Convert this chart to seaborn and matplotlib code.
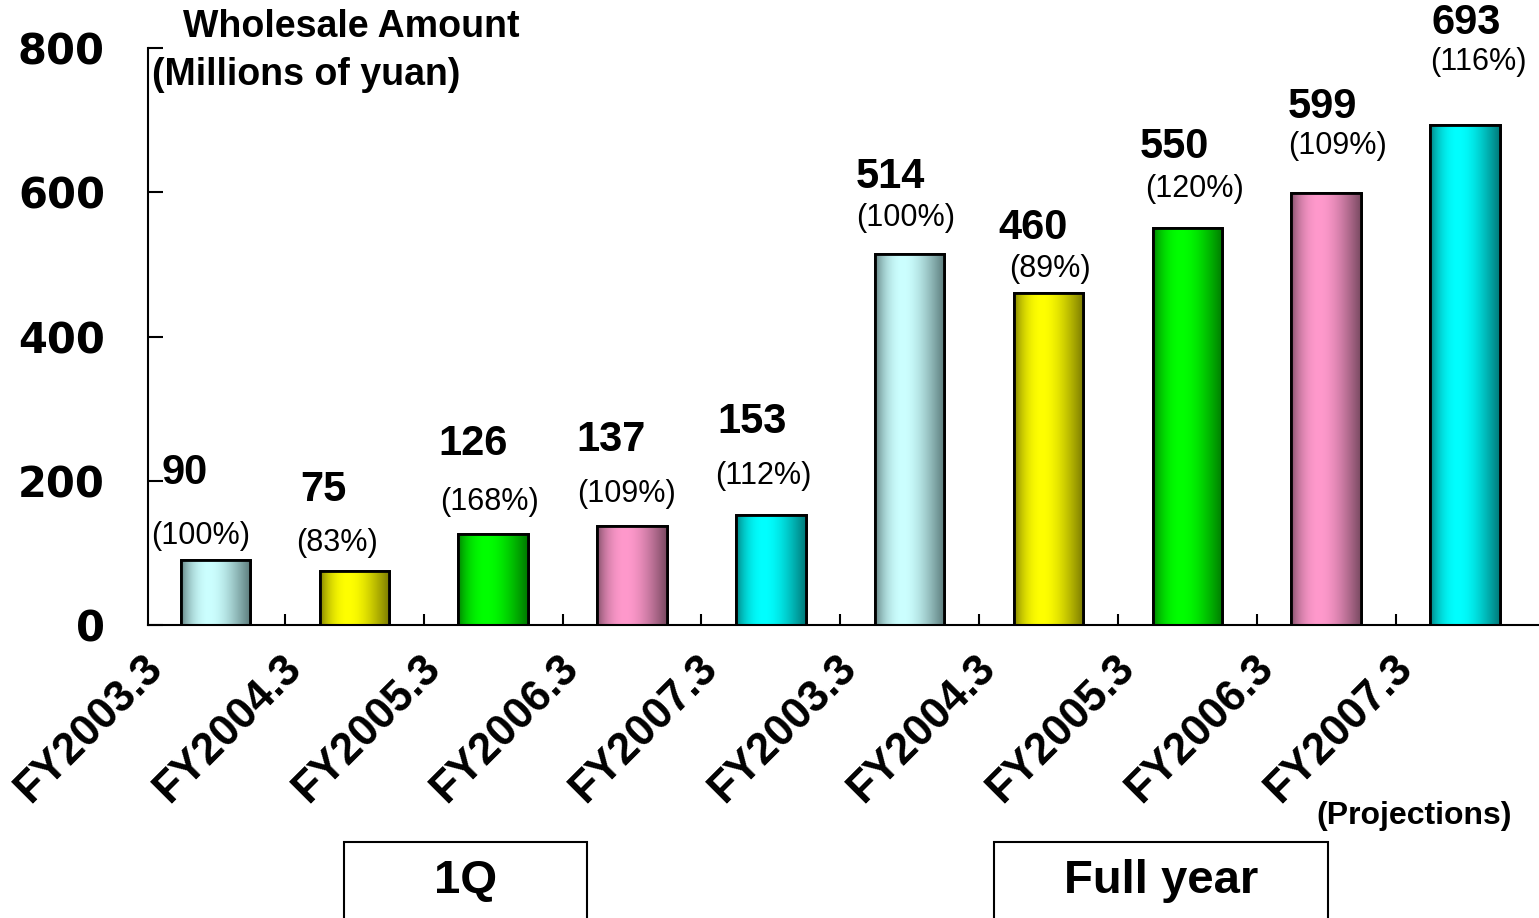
import numpy as np
import pandas as pd
import matplotlib
matplotlib.use("Agg")
import matplotlib.pyplot as plt
import matplotlib.transforms as mtransforms
from matplotlib.patches import Rectangle
from matplotlib.colors import to_rgb
import seaborn as sns

# Data
groups = ["1Q"] * 5 + ["Full year"] * 5
fiscal_years = ["FY2003.3", "FY2004.3", "FY2005.3", "FY2006.3", "FY2007.3",
                "FY2003.3", "FY2004.3", "FY2005.3", "FY2006.3", "FY2007.3"]
amounts = [90, 75, 126, 137, 153, 514, 460, 550, 599, 693]
growth_pct = ["(100%)", "(83%)", "(168%)", "(109%)", "(112%)",
              "(100%)", "(89%)", "(120%)", "(109%)", "(116%)"]

# colours (centre highlight, shaded edge) per fiscal year
bar_light = ["#CCFFFF", "#FFFF00", "#00FF00", "#FF99CC", "#00FFFF"]
bar_dark = ["#5A7A7A", "#7A7A00", "#007A00", "#7A4A62", "#007A7A"]

# label offsets in pixels relative to bar top (value label, percent label)
value_off = [(-31, 87), (-31, 81), (-20, 90), (-21, 86), (-19, 93),
             (-19, 77), (-15, 65), (-13, 81), (-4, 86), (1, 102)]
pct_off = [(-15, 24), (-17, 28), (-4, 32), (-5, 32), (-8, 39),
           (-4, 36), (1, 24), (7, 39), (11, 47), (13, 63)]

W, H = 1539, 918

df = pd.DataFrame({
    "key": [f"{g} {fy}" for g, fy in zip(groups, fiscal_years)],
    "amount": amounts,
    "color_id": [fy for fy in fiscal_years],
})

sns.set_style("white")
plt.rcParams["font.family"] = ["Liberation Sans", "DejaVu Sans"]
plt.rcParams["text.color"] = "black"
plt.rcParams["xtick.color"] = "black"
plt.rcParams["ytick.color"] = "black"

fig = plt.figure(figsize=(W / 100, H / 100), dpi=100)
ax = fig.add_axes([148 / W, 293 / H, 1391 / W, 577 / H])

sns.barplot(data=df, x="key", y="amount", hue="color_id",
            palette=bar_light, legend=False, width=0.5,
            edgecolor="black", linewidth=2, ax=ax)

# cylinder-like horizontal shading on each bar
t = np.linspace(0, 1, 256)
prof = np.sin(np.pi * t ** 0.76)
bars = [p for p in ax.patches if p.get_height() > 0]
bars.sort(key=lambda p: p.get_x())
for i, patch in enumerate(bars):
    lo = np.array(to_rgb(bar_dark[i % 5]))
    hi = np.array(to_rgb(bar_light[i % 5]))
    grad = lo[None, :] + (hi - lo)[None, :] * prof[:, None]
    x0, w, h = patch.get_x(), patch.get_width(), patch.get_height()
    im = ax.imshow(grad[None, :, :], extent=[x0, x0 + w, 0, h],
                   aspect="auto", zorder=2.5, interpolation="bilinear")
    im.set_clip_path(patch)
    ax.add_patch(Rectangle((x0, 0), w, h, fill=False, edgecolor="black",
                           linewidth=2, zorder=3))

ax.set_xlim(-0.486, 9.533)
ax.set_ylim(0, 800)
ax.set_xlabel("")
ax.set_ylabel("")

for s in ["top", "right"]:
    ax.spines[s].set_visible(False)
for s in ["left", "bottom"]:
    ax.spines[s].set_linewidth(1.5)
    ax.spines[s].set_color("black")

# y axis
ax.set_yticks([0, 200, 400, 600, 800])
ax.set_yticklabels(["0", "200", "400", "600", "800"],
                   fontfamily="DejaVu Sans", fontweight="bold", fontsize=30)
ax.tick_params(axis="y", left=True, direction="in", length=11, width=1.5,
               pad=31)

# x axis
ax.set_xticks(range(len(fiscal_years)))
ax.set_xticklabels(fiscal_years, rotation=45, ha="right", va="top",
                   rotation_mode="anchor", fontweight="bold", fontsize=31.5)
ax.tick_params(axis="x", which="major", bottom=True, length=0, pad=0)
ax.set_xticks(np.arange(0.5, 9.5, 1), minor=True)
ax.tick_params(axis="x", which="minor", bottom=True, direction="in",
               length=8, width=1.5)
shift = mtransforms.ScaledTranslation(-0.74, -0.22, fig.dpi_scale_trans)
for lab in ax.get_xticklabels():
    lab.set_transform(lab.get_transform() + shift)

# data labels
for i, (v, p) in enumerate(zip(amounts, growth_pct)):
    ax.annotate(str(v), (i, v), xytext=value_off[i], textcoords="offset pixels",
                ha="center", va="center", fontsize=30, fontweight="bold",
                zorder=5)
    ax.annotate(p, (i, v), xytext=pct_off[i], textcoords="offset pixels",
                ha="center", va="center", fontsize=22, zorder=5)


def fx(x):
    return x / W


def fy(y):
    return 1 - y / H


fig.text(fx(351), fy(27), "Wholesale Amount", ha="center", va="center",
         fontsize=27, fontweight="bold")
fig.text(fx(152), fy(75), "(Millions of yuan)", ha="left", va="center",
         fontsize=27, fontweight="bold")
fig.text(fx(1414), fy(816), "(Projections)", ha="center", va="center",
         fontsize=23, fontweight="bold")

# group boxes (open at the bottom edge of the picture)
for (x0, x1), label in [((344, 587), "1Q"), ((994, 1328), "Full year")]:
    fig.patches.append(Rectangle((fx(x0), fy(960)), fx(x1 - x0), (960 - 842) / H,
                                 transform=fig.transFigure, fill=False,
                                 edgecolor="black", linewidth=1.5))
    fig.text(fx((x0 + x1) / 2), fy(881), label, ha="center", va="center",
             fontsize=34, fontweight="bold")

fig.savefig("out.png", dpi=100)
